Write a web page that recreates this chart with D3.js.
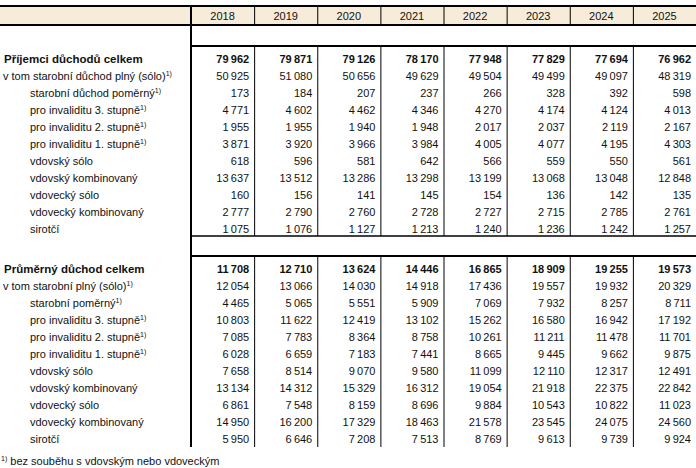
<!DOCTYPE html>
<html>
<head>
<meta charset="utf-8">
<script src="https://cdn.jsdelivr.net/npm/d3@7"></script>
<style>
  body { margin: 0; background: #fff; }
  text { font-family: "Liberation Sans", Arial, sans-serif; font-size: 11px; fill: #111; }
  .bold { font-weight: bold; }
</style>
</head>
<body>
<svg id="table"></svg>
<script>
// years in the header
const years = ["2018", "2019", "2020", "2021", "2022", "2023", "2024", "2025"];

// first block: recipients
const recipientLabels = [
    "Příjemci důchodů celkem",
    "v tom starobní důchod plný (sólo)",
    "starobní důchod poměrný",
    "pro invaliditu 3. stupně",
    "pro invaliditu 2. stupně",
    "pro invaliditu 1. stupně",
    "vdovský sólo",
    "vdovský kombinovaný",
    "vdovecký sólo",
    "vdovecký kombinovaný",
    "sirotčí"
];
const recipientValues = [
    [79962, 79871, 79126, 78170, 77948, 77829, 77694, 76962],
    [50925, 51080, 50656, 49629, 49504, 49499, 49097, 48319],
    [173, 184, 207, 237, 266, 328, 392, 598],
    [4771, 4602, 4462, 4346, 4270, 4174, 4124, 4013],
    [1955, 1955, 1940, 1948, 2017, 2037, 2119, 2167],
    [3871, 3920, 3966, 3984, 4005, 4077, 4195, 4303],
    [618, 596, 581, 642, 566, 559, 550, 561],
    [13637, 13512, 13286, 13298, 13199, 13068, 13048, 12848],
    [160, 156, 141, 145, 154, 136, 142, 135],
    [2777, 2790, 2760, 2728, 2727, 2715, 2785, 2761],
    [1075, 1076, 1127, 1213, 1240, 1236, 1242, 1257]
];

// second block: average pension
const averageLabels = [
    "Průměrný důchod celkem",
    "v tom starobní plný (sólo)",
    "starobní poměrný",
    "pro invaliditu 3. stupně",
    "pro invaliditu 2. stupně",
    "pro invaliditu 1. stupně",
    "vdovský sólo",
    "vdovský kombinovaný",
    "vdovecký sólo",
    "vdovecký kombinovaný",
    "sirotčí"
];
const averageValues = [
    [11708, 12710, 13624, 14446, 16865, 18909, 19255, 19573],
    [12054, 13066, 14030, 14918, 17436, 19557, 19932, 20329],
    [4465, 5065, 5551, 5909, 7069, 7932, 8257, 8711],
    [10803, 11622, 12419, 13102, 15262, 16580, 16942, 17192],
    [7085, 7783, 8364, 8758, 10261, 11211, 11478, 11701],
    [6028, 6659, 7183, 7441, 8665, 9445, 9662, 9875],
    [7658, 8514, 9070, 9580, 11099, 12110, 12317, 12491],
    [13134, 14312, 15329, 16312, 19054, 21918, 22375, 22842],
    [6861, 7548, 8159, 8696, 9884, 10543, 10822, 11023],
    [14950, 16200, 17329, 18463, 21578, 23545, 24075, 24560],
    [5950, 6646, 7208, 7513, 8769, 9613, 9739, 9924]
];

// rows carrying the footnote mark
const footnoteRows = [1, 2, 3, 4, 5];
const footnoteText = "bez souběhu s vdovským nebo vdoveckým";

const width = 696, height = 468;
const svg = d3.select("#table").attr("width", width).attr("height", height);

const x = d3.scaleBand().domain(years).range([191, 696]);
const rowY = d3.scaleLinear().domain([0, 1]).range([0, 17]);

// format with a space as thousands separator
const fmt = v => d3.format(",")(v).replace(/,/g, "\u2009");

// header background
svg.append("rect")
    .attr("x", 0).attr("y", 7)
    .attr("width", width).attr("height", 18)
    .attr("fill", "#f7ecd9");

svg.selectAll(".yearLabel")
    .data(years)
    .enter().append("text")
    .attr("x", d => x(d) + x.bandwidth() / 2)
    .attr("y", 20)
    .attr("text-anchor", "middle")
    .text(d => d);

// column separators
const lines = svg.append("g").attr("stroke", "#000");
years.forEach(function(yr, i) {
    if (i == 0) return;
    [[7, 25], [46, 236], [256, 447]].forEach(function(seg) {
        lines.append("line")
            .attr("x1", x(yr) + 0.5).attr("x2", x(yr) + 0.5)
            .attr("y1", seg[0]).attr("y2", seg[1])
            .attr("stroke-width", 1);
    });
});
// thick left border of the numbers
lines.append("line")
    .attr("x1", 191).attr("x2", 191).attr("y1", 6).attr("y2", 447)
    .attr("stroke-width", 2);

// horizontal rules
[[0, 6, 2], [0, 25, 2], [191, 46, 2], [191, 236, 1.5], [191, 256, 2]].forEach(function(r) {
    lines.append("line")
        .attr("x1", r[0]).attr("x2", width)
        .attr("y1", r[1]).attr("y2", r[1])
        .attr("stroke-width", r[2]);
});

function drawBlock(labels, values, top) {
    const g = svg.append("g").attr("transform", "translate(0," + top + ")");
    labels.forEach(function(label, i) {
        const y = rowY(i) + 4;
        const bold = i == 0;
        const xLabel = i == 0 ? 4 : (i == 1 ? 3 : 30);
        const t = g.append("text")
            .attr("x", xLabel)
            .attr("y", y)
            .classed("bold", bold)
            .style("font-size", bold ? "11.5px" : "11px")
            .text(label);
        if (footnoteRows.indexOf(i) >= 0) {
            t.append("tspan")
                .attr("dy", -4)
                .style("font-size", "7px")
                .text("1)");
        }
        g.selectAll(null)
            .data(values[i])
            .enter().append("text")
            .attr("x", (d, j) => x(years[j]) + x.bandwidth() - 5)
            .attr("y", y)
            .attr("text-anchor", "end")
            .classed("bold", bold)
            .text(d => fmt(d));
    });
}

drawBlock(recipientLabels, recipientValues, 59);
drawBlock(averageLabels, averageValues, 269);

// footnote
const fn = svg.append("text").attr("x", 1).attr("y", 465);
fn.append("tspan").attr("dy", -4).style("font-size", "7px").text("1)");
fn.append("tspan").attr("dy", 4).text(" " + footnoteText);
</script>
</body>
</html>
